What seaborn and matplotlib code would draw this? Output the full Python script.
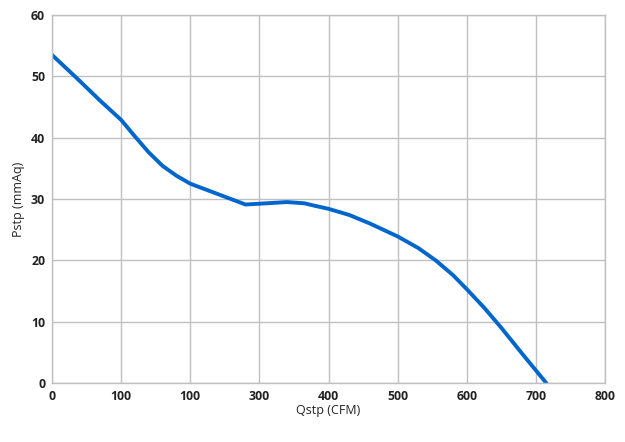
import matplotlib
matplotlib.use("Agg")
import matplotlib.pyplot as plt
import seaborn as sns
import pandas as pd

qstp = [0, 35, 70, 100, 120, 140, 160, 180, 200, 240, 280, 310, 340, 365, 380, 400, 430, 460, 500, 530, 555, 580, 600, 625, 650, 680, 715]
pstp = [53.5, 49.8, 46.0, 42.9, 40.2, 37.6, 35.4, 33.8, 32.5, 30.8, 29.1, 29.3, 29.5, 29.3, 28.9, 28.4, 27.4, 26.0, 23.9, 22.0, 20.0, 17.6, 15.3, 12.3, 9.0, 4.8, 0]
xticks = [0, 100, 200, 300, 400, 500, 600, 700, 800]
xticklabels = ["0", "100", "100", "300", "400", "500", "600", "700", "800"]
yticks = [0, 10, 20, 30, 40, 50, 60]

sns.set_theme(style="white")
plt.rcParams['font.family'] = ['Open Sans', 'DejaVu Sans']

df = pd.DataFrame({"Qstp": qstp, "Pstp": pstp})
fig = plt.figure(figsize=(6.25, 4.42), dpi=100)
ax = fig.add_axes([0.0832, 0.1335, 0.8848, 0.8325])
sns.lineplot(data=df, x="Qstp", y="Pstp", ax=ax, color="#0066CC", linewidth=2.8, sort=False)

ax.set_xlim(0, 800)
ax.set_ylim(0, 60)
ax.set_xticks(xticks)
ax.set_xticklabels(xticklabels)
ax.set_yticks(yticks)
ax.grid(True, color="#C0C0C0", linewidth=1.0)
ax.set_axisbelow(True)
for s in ax.spines.values():
    s.set_color("#C0C0C0")
    s.set_linewidth(1.0)
ax.tick_params(length=0, labelsize=8.8, colors="#222222", pad=5)
for lab in ax.get_xticklabels() + ax.get_yticklabels():
    lab.set_fontweight("bold")
ax.set_xlabel("Qstp (CFM)", fontsize=9, color="#222222", labelpad=0.5)
ax.set_ylabel("Pstp (mmAq)", fontsize=9, color="#222222", labelpad=4)

fig.savefig("out.png", dpi=100)
